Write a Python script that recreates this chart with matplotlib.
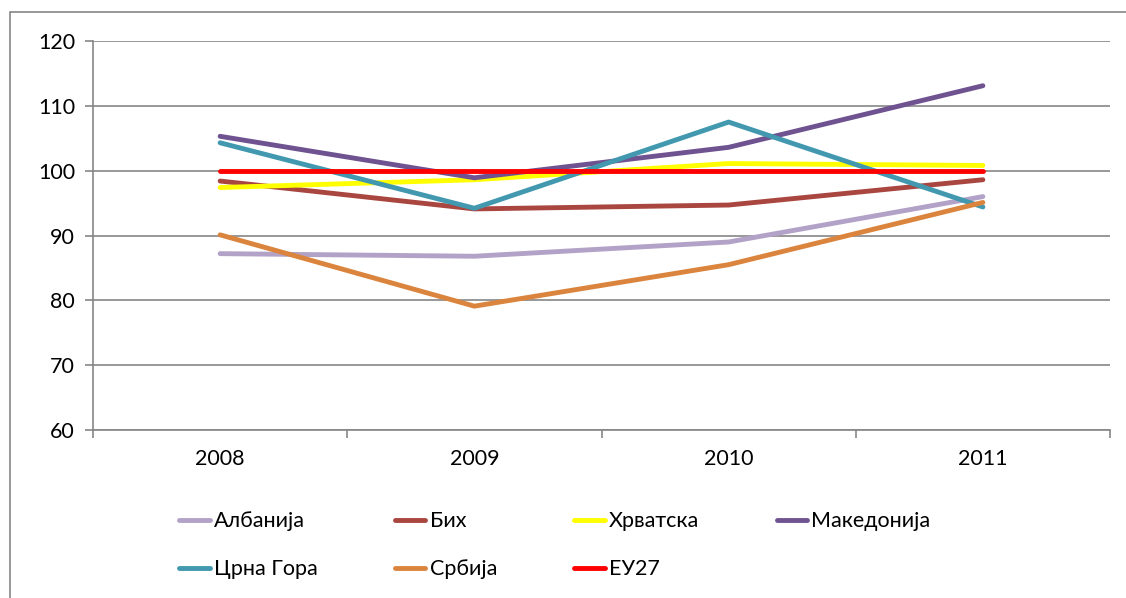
import matplotlib
matplotlib.use("Agg")
import matplotlib.pyplot as plt
from matplotlib.patches import Rectangle

plt.rcParams['font.family'] = ['Lato', 'DejaVu Sans']

years = ['2008', '2009', '2010', '2011']
albanija = [87.2, 86.8, 89.0, 96.0]
bih = [98.4, 94.1, 94.7, 98.6]
hrvatska = [97.4, 98.6, 101.1, 100.8]
makedonija = [105.3, 98.9, 103.6, 113.1]
crna_gora = [104.3, 94.2, 107.5, 94.4]
srbija = [90.1, 79.1, 85.5, 95.1]
eu27 = [100, 100, 100, 100]

series = [
    ('Албанија', albanija, '#B3A2C7'),
    ('Бих', bih, '#A9463F'),
    ('Хрватска', hrvatska, '#FFFF00'),
    ('Македонија', makedonija, '#6F5290'),
    ('Црна Гора', crna_gora, '#4198AF'),
    ('Србија', srbija, '#DB843D'),
    ('ЕУ27', eu27, '#FF0000'),
]

fig = plt.figure(figsize=(11.26, 5.98), dpi=100)
ax = fig.add_axes([93 / 1126, 1 - 430 / 598, (1110 - 93) / 1126, (430 - 41) / 598])

# outer chart border
fig.patches.append(Rectangle((10 / 1126, -0.1), 1.2, 1 - 12 / 598 + 0.1,
                             transform=fig.transFigure, fill=False,
                             edgecolor='#868686', linewidth=1.2))

x = range(len(years))
lines = []
for name, vals, col in series:
    ln, = ax.plot(x, vals, color=col, linewidth=3.5, label=name, solid_capstyle='round')
    lines.append(ln)

ax.set_xlim(-0.5, len(years) - 0.5)
ax.set_ylim(60, 120)
ax.set_yticks(range(60, 121, 10))
ax.yaxis.grid(True, color='#868686', linewidth=1.2)
ax.set_axisbelow(True)

ax.set_xticks(list(x))
ax.set_xticklabels(years)
ax.set_xticks([i - 0.5 for i in range(len(years) + 1)], minor=True)
ax.tick_params(axis='x', which='major', length=0, pad=14, labelsize=15.5)
ax.tick_params(axis='x', which='minor', length=6, color='#868686', width=1.2)
ax.tick_params(axis='y', length=6, color='#868686', width=1.2, labelsize=15.5, pad=7)

for s in ['top', 'right']:
    ax.spines[s].set_visible(False)
for s in ['left', 'bottom']:
    ax.spines[s].set_color('#868686')
    ax.spines[s].set_linewidth(1.2)

# legend is filled column by column, so reorder to read row by row
order = [0, 4, 1, 5, 2, 6, 3]
fig.legend([lines[i] for i in order], [series[i][0] for i in order],
           loc='upper left', bbox_to_anchor=(160 / 1126, 1 - 492 / 598), ncol=4,
           frameon=False, fontsize=15.5, handlelength=1.4, handletextpad=0.2,
           columnspacing=3.6, labelspacing=1.3)

fig.savefig('out.png', dpi=100)
